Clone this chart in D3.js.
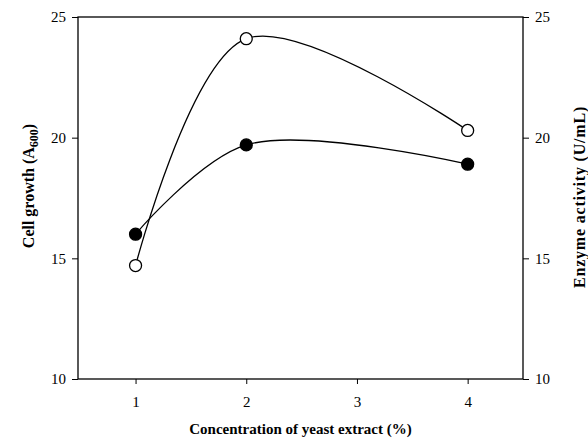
<!DOCTYPE html>
<html>
<head>
<meta charset="utf-8">
<script src="https://cdn.jsdelivr.net/npm/d3@7"></script>
<style>
  body { margin: 0; background: #fff; }
  svg text { font-family: "Liberation Serif", "Times New Roman", serif; fill: #000; }
</style>
</head>
<body>
<svg id="chart" width="588" height="445"></svg>
<script>
// yeast extract concentration (%)
var concentration = [1, 2, 4];
var xTicks = [1, 2, 3, 4];
var yTicks = [10, 15, 20, 25];
// filled circles, left axis
var cellGrowth = [16.0, 19.7, 18.9];
// open circles, right axis
var enzymeActivity = [14.7, 24.1, 20.3];

var svg = d3.select('#chart');
var margin = {top: 17, right: 65, bottom: 66, left: 78};
var width = 588 - margin.left - margin.right;
var height = 445 - margin.top - margin.bottom;

var g = svg.append('g')
    .attr('transform', 'translate(' + margin.left + ',' + margin.top + ')');

var x = d3.scaleLinear().domain([0.48, 4.5]).range([0, width]);
var yLeft = d3.scaleLinear().domain([10, 25]).range([height, 0]);
var yRight = d3.scaleLinear().domain([10, 25]).range([height, 0]);

function styleAxis(sel) {
    sel.select('.domain').remove();
    sel.selectAll('line').attr('stroke', '#000').attr('stroke-width', 1);
    sel.selectAll('text').style('font-size', '15px');
}

// frame
g.append('rect')
    .attr('width', width)
    .attr('height', height)
    .attr('fill', 'none')
    .attr('stroke', '#000')
    .attr('stroke-width', 1.3);

g.append('g')
    .attr('transform', 'translate(0,' + height + ')')
    .call(d3.axisBottom(x).tickValues(xTicks).tickSize(5).tickPadding(12).tickFormat(d3.format('d')))
    .call(styleAxis);

g.append('g')
    .call(d3.axisLeft(yLeft).tickValues(yTicks).tickSize(6).tickPadding(6))
    .call(styleAxis);

g.append('g')
    .attr('transform', 'translate(' + width + ',0)')
    .call(d3.axisRight(yRight).tickValues(yTicks).tickSize(6).tickPadding(6))
    .call(styleAxis);

var curve = d3.curveCatmullRom.alpha(0.5);

function drawSeries(values, yScale, filled) {
    var pts = concentration.map(function(c, i) { return [c, values[i]]; });
    var line = d3.line()
        .x(function(d) { return x(d[0]); })
        .y(function(d) { return yScale(d[1]); })
        .curve(curve);

    g.append('path')
        .datum(pts)
        .attr('d', line)
        .attr('fill', 'none')
        .attr('stroke', '#000')
        .attr('stroke-width', 1.3);

    g.selectAll(null)
        .data(pts)
      .enter().append('circle')
        .attr('cx', function(d) { return x(d[0]); })
        .attr('cy', function(d) { return yScale(d[1]); })
        .attr('r', 6)
        .attr('fill', filled ? '#000' : '#fff')
        .attr('stroke', '#000')
        .attr('stroke-width', 1.3);
}

drawSeries(cellGrowth, yLeft, true);
drawSeries(enzymeActivity, yRight, false);

// axis titles
svg.append('text')
    .attr('x', margin.left + width / 2)
    .attr('y', 434)
    .attr('text-anchor', 'middle')
    .style('font-size', '15px')
    .style('font-weight', 'bold')
    .text('Concentration of yeast extract (%)');

var leftTitle = svg.append('text')
    .attr('transform', 'translate(34,186) rotate(-90)')
    .attr('text-anchor', 'middle')
    .style('font-size', '16px')
    .style('font-weight', 'bold');
leftTitle.append('tspan').text('Cell growth (A');
leftTitle.append('tspan').attr('dy', 4).style('font-size', '12px').text('600');
leftTitle.append('tspan').attr('dy', -4).text(')');

svg.append('text')
    .attr('transform', 'translate(585,197) rotate(-90)')
    .attr('text-anchor', 'middle')
    .style('font-size', '16px')
    .style('font-weight', 'bold')
    .style('letter-spacing', '0.8px')
    .text('Enzyme activity (U/mL)');
</script>
</body>
</html>
